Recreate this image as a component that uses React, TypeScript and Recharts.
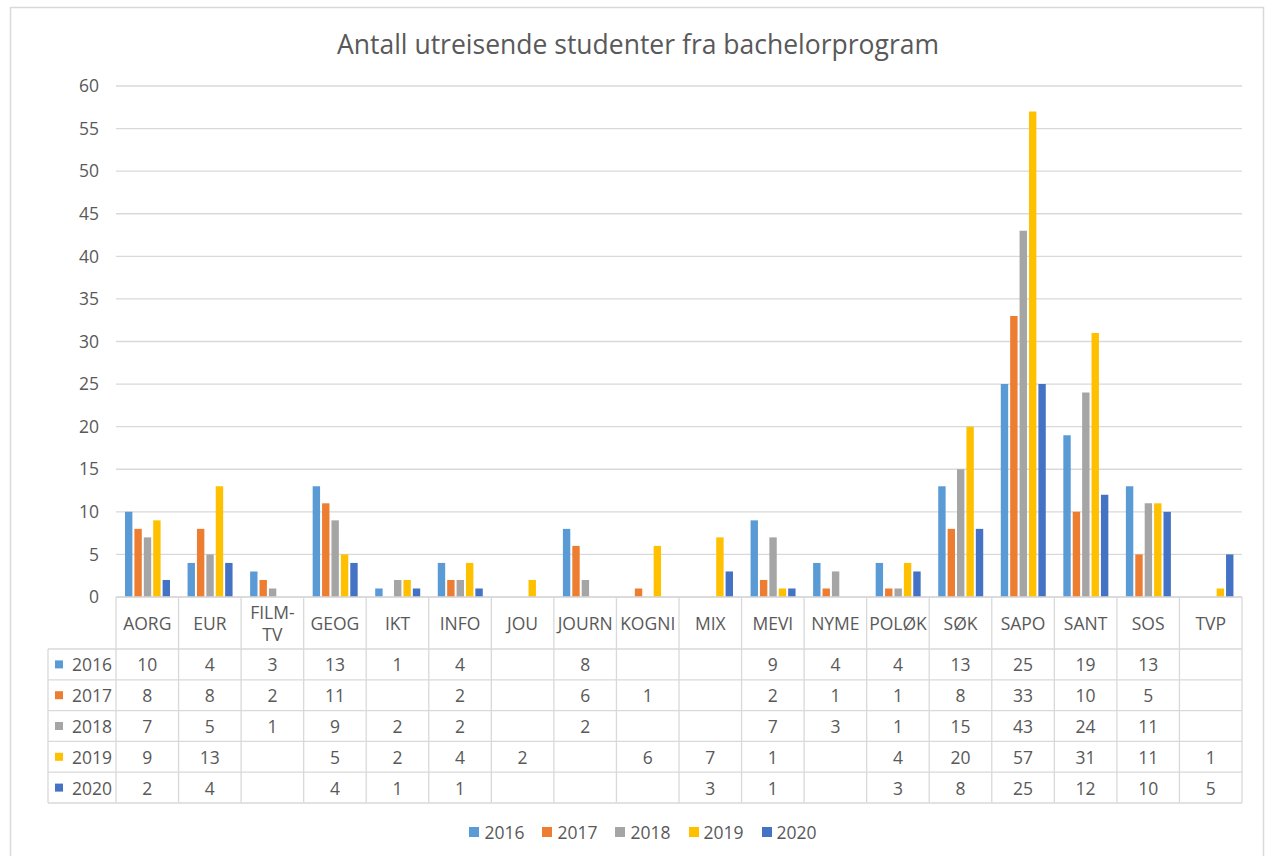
import React from 'react';
import { BarChart, Bar, XAxis, YAxis, CartesianGrid, Legend, Customized } from 'recharts';

const categories = ['AORG', 'EUR', 'FILM-TV', 'GEOG', 'IKT', 'INFO', 'JOU', 'JOURN', 'KOGNI', 'MIX', 'MEVI', 'NYME', 'POLØK', 'SØK', 'SAPO', 'SANT', 'SOS', 'TVP'];
const seriesNames = ['2016', '2017', '2018', '2019', '2020'];
const seriesColors = ['#5B9BD5', '#ED7D31', '#A5A5A5', '#FFC000', '#4472C4'];
const v2016 = [10, 4, 3, 13, 1, 4, null, 8, null, null, 9, 4, 4, 13, 25, 19, 13, null];
const v2017 = [8, 8, 2, 11, null, 2, null, 6, 1, null, 2, 1, 1, 8, 33, 10, 5, null];
const v2018 = [7, 5, 1, 9, 2, 2, null, 2, null, null, 7, 3, 1, 15, 43, 24, 11, null];
const v2019 = [9, 13, null, 5, 2, 4, 2, null, 6, 7, 1, null, 4, 20, 57, 31, 11, 1];
const v2020 = [2, 4, null, 4, 1, 1, null, null, null, 3, 1, null, 3, 8, 25, 12, 10, 5];
const yTicks = [0, 5, 10, 15, 20, 25, 30, 35, 40, 45, 50, 55, 60];
const title = 'Antall utreisende studenter fra bachelorprogram';

const seriesValues = [v2016, v2017, v2018, v2019, v2020];

const data = categories.map((c, i) => {
  const row: any = { name: c };
  seriesNames.forEach((s, k) => {
    row[s] = seriesValues[k][i];
  });
  return row;
});

const W = 1266;
const H = 856;
const PLOT_LEFT = 116;
const PLOT_RIGHT = 1242;
const COL_W = (PLOT_RIGHT - PLOT_LEFT) / categories.length;
const TABLE_H = 206;
const HEADER_H = 52;
const ROW_H = (TABLE_H - HEADER_H) / 5;
const KEY_LEFT = 48;
const GRID = '#D9D9D9';
const TEXT = '#595959';
const FS = 17.5;

const TableTick = (props: any) => {
  const { x, y, payload } = props;
  const idx = categories.indexOf(payload.value);
  const left = x - COL_W / 2;
  const right = x + COL_W / 2;
  const label: string = payload.value;
  const lines = label.includes('-') ? [label.slice(0, label.indexOf('-') + 1), label.slice(label.indexOf('-') + 1)] : [label];
  const els: any[] = [];
  els.push(<line key="vl" x1={left} x2={left} y1={y} y2={y + TABLE_H} stroke={GRID} strokeWidth={1.3} />);
  if (idx === categories.length - 1) {
    els.push(<line key="vr" x1={right} x2={right} y1={y} y2={y + TABLE_H} stroke={GRID} strokeWidth={1.3} />);
  }
  for (let r = 0; r <= 5; r++) {
    const ly = y + HEADER_H + r * ROW_H;
    els.push(<line key={'h' + r} x1={left} x2={right} y1={ly} y2={ly} stroke={GRID} strokeWidth={1.3} />);
  }
  lines.forEach((t, li) => {
    const cy = y + HEADER_H / 2 + (li - (lines.length - 1) / 2) * 22;
    els.push(
      <text key={'c' + li} x={x} y={cy} textAnchor="middle" dominantBaseline="central" fill={TEXT} fontSize={FS}>
        {t}
      </text>
    );
  });
  seriesValues.forEach((vals, k) => {
    const v = vals[idx];
    if (v !== null && v !== undefined) {
      els.push(
        <text key={'v' + k} x={x} y={y + HEADER_H + ROW_H * (k + 0.5)} textAnchor="middle" dominantBaseline="central" fill={TEXT} fontSize={FS}>
          {v}
        </text>
      );
    }
  });
  if (idx === 0) {
    els.push(<line key="kl" x1={KEY_LEFT} x2={KEY_LEFT} y1={y + HEADER_H} y2={y + TABLE_H} stroke={GRID} strokeWidth={1.3} />);
    for (let r = 0; r <= 5; r++) {
      const ly = y + HEADER_H + r * ROW_H;
      els.push(<line key={'kh' + r} x1={KEY_LEFT} x2={left} y1={ly} y2={ly} stroke={GRID} strokeWidth={1.3} />);
    }
    seriesNames.forEach((s, k) => {
      const cy = y + HEADER_H + ROW_H * (k + 0.5);
      els.push(<rect key={'ks' + k} x={KEY_LEFT + 7} y={cy - 4} width={8} height={8} fill={seriesColors[k]} />);
      els.push(
        <text key={'kt' + k} x={KEY_LEFT + 24} y={cy} dominantBaseline="central" fill={TEXT} fontSize={FS}>
          {s}
        </text>
      );
    });
  }
  return <g>{els}</g>;
};

const Decor = () => (
  <g>
    <rect x={10.5} y={7.5} width={1253} height={900} fill="none" stroke={GRID} strokeWidth={1.5} />
    <text x={638} y={44} textAnchor="middle" dominantBaseline="central" fill={TEXT} fontSize={26.5}>
      {title}
    </text>
  </g>
);

const LegendContent = () => (
  <div style={{ display: 'flex', justifyContent: 'center', alignItems: 'center', height: 24, paddingRight: 12, fontSize: FS, color: TEXT }}>
    {seriesNames.map((s, k) => (
      <span key={s} style={{ display: 'flex', alignItems: 'center', marginRight: k < seriesNames.length - 1 ? 18 : 0 }}>
        <span style={{ display: 'inline-block', width: 10, height: 10, background: seriesColors[k], marginRight: 5 }} />
        {s}
      </span>
    ))}
  </div>
);

export default function App() {
  return (
    <div style={{ position: 'absolute', left: 0, top: 0, width: W, height: H, background: '#fff', fontFamily: '"Open Sans", sans-serif', overflow: 'hidden' }}>
      <BarChart
        width={W}
        height={H}
        data={data}
        margin={{ top: 86, right: W - PLOT_RIGHT, left: PLOT_LEFT - 60, bottom: 12 }}
        barGap={2}
        barSize={7.4}
      >
        <Customized component={Decor} />
        <CartesianGrid vertical={false} stroke={GRID} strokeWidth={1.3} />
        <XAxis
          dataKey="name"
          interval={0}
          height={TABLE_H}
          tickLine={false}
          tickSize={0}
          tickMargin={0}
          axisLine={{ stroke: GRID, strokeWidth: 1.3 }}
          tick={<TableTick />}
        />
        <YAxis
          width={60}
          domain={[0, 60]}
          ticks={yTicks}
          tickLine={false}
          axisLine={false}
          tickSize={0}
          tickMargin={17}
          tick={{ fill: TEXT, fontSize: FS }}
        />
        <Legend verticalAlign="bottom" content={<LegendContent />} wrapperStyle={{ paddingTop: 17 }} />
        {seriesNames.map((s, k) => (
          <Bar key={s} dataKey={s} fill={seriesColors[k]} isAnimationActive={false} />
        ))}
      </BarChart>
    </div>
  );
}
